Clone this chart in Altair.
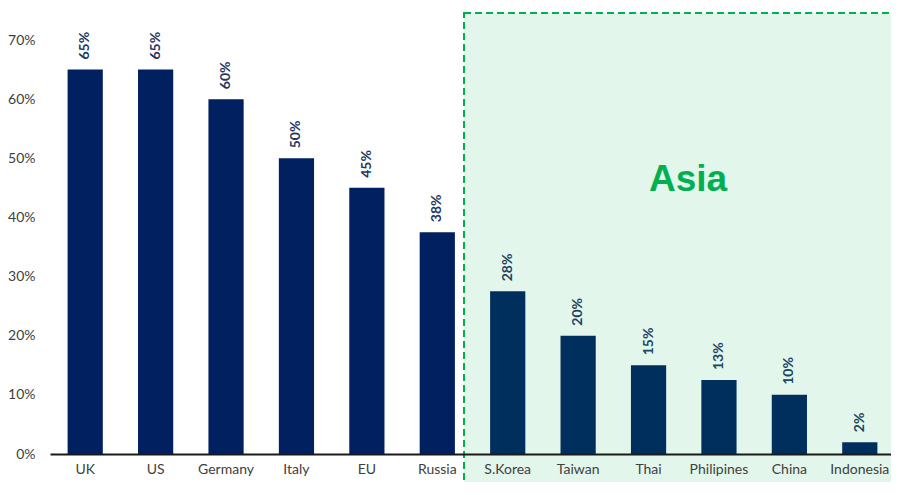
import altair as alt
import pandas as pd

countries = ["UK", "US", "Germany", "Italy", "EU", "Russia",
             "S.Korea", "Taiwan", "Thai", "Philipines", "China", "Indonesia"]
values = [65, 65, 60, 50, 45, 37.5, 27.5, 20, 15, 12.5, 10, 2]
y_ticks = [0, 10, 20, 30, 40, 50, 60, 70]
region_label = ["Asia"]

df = pd.DataFrame({"country": countries, "value": values})
box_df = pd.DataFrame({"label": region_label})

W, H = 841, 414

x_enc = alt.X(
    "country:N", sort=countries,
    scale=alt.Scale(range=[0, 845], paddingInner=0.5, paddingOuter=0.25),
    axis=alt.Axis(title=None, labelAngle=0, ticks=False, labelPadding=8,
                  labelFont="Lato", labelFontSize=14, labelColor="#404040",
                  domainColor="#1a1a1a", domainWidth=2, zindex=1, grid=False),
)
y_enc = alt.Y(
    "value:Q",
    scale=alt.Scale(domain=[0, 70], nice=False),
    axis=alt.Axis(title=None, values=y_ticks, labelExpr="datum.value + '%'",
                  domain=False, ticks=False, grid=False, labelPadding=15,
                  labelFont="Lato", labelFontSize=14, labelColor="#404040"),
)

bars = alt.Chart(df).mark_bar(color="#002060").encode(x=x_enc, y=y_enc)

labels = alt.Chart(df).transform_calculate(
    lab="format(datum.value, '.0f') + '%'"
).mark_text(
    angle=270, align="left", baseline="middle", dx=10,
    font="Lato", fontWeight="bold", fontSize=14, color="#1F3864",
).encode(x=x_enc, y=y_enc, text="lab:N")

box = alt.Chart(box_df).mark_rect(
    fill="#00B050", fillOpacity=0.11, stroke="#00B050",
    strokeDash=[7, 4], strokeWidth=2,
).encode(x=alt.value(414), x2=alt.value(905), y=alt.value(-27), y2=alt.value(480))

asia = alt.Chart(box_df).mark_text(
    font="Liberation Sans", fontWeight="bold", fontSize=37, color="#00B050",
    align="center", baseline="alphabetic",
).encode(x=alt.value(638), y=alt.value(151), text="label:N")

chart = alt.layer(bars, labels, box, asia).properties(
    width=W, height=H,
    autosize=alt.AutoSizeParams(type="none"),
    padding={"left": 42, "top": 32, "right": 0, "bottom": 28},
).configure_view(stroke=None)

chart.save("out.html", embed_options={"renderer": "svg", "actions": False})
